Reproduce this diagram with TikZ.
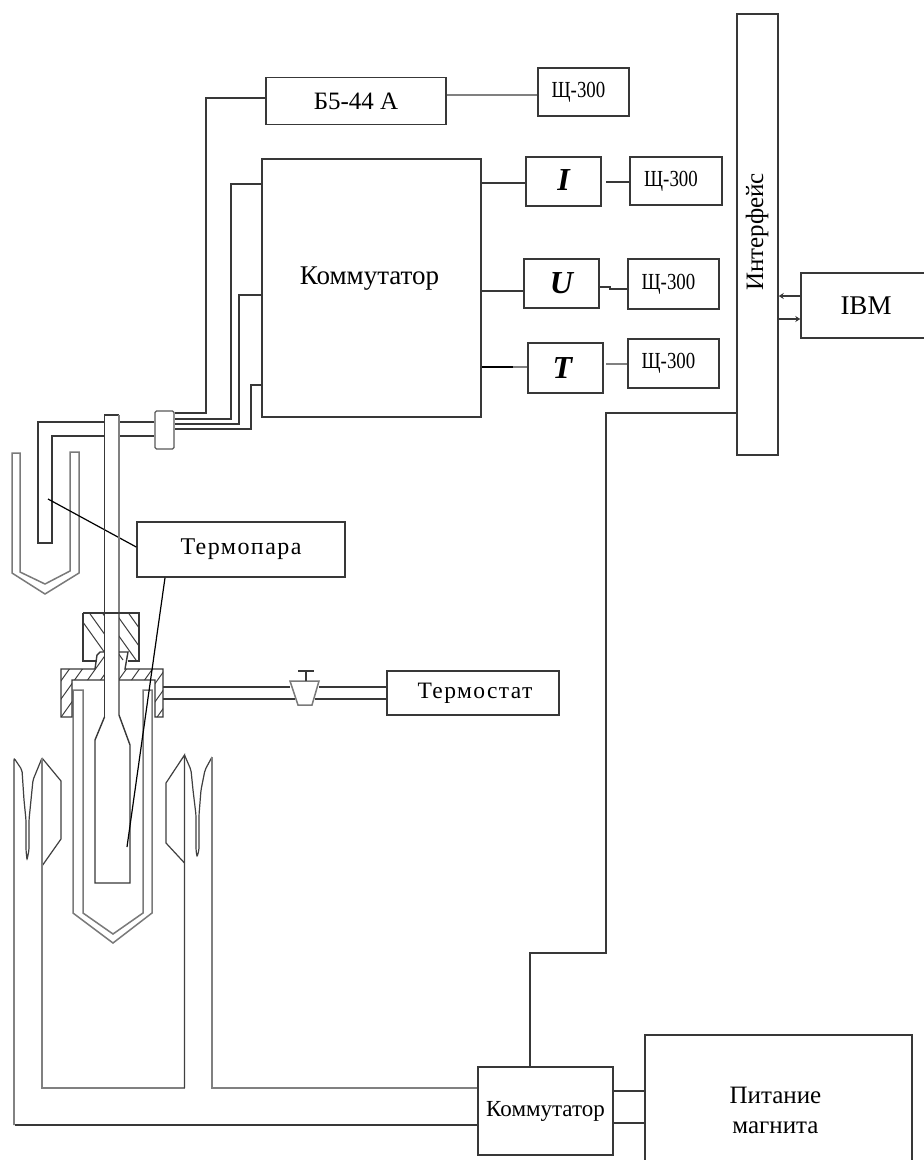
\documentclass[tikz,border=0pt]{standalone}
\usepackage{fontspec}
\setmainfont{Liberation Serif}
\newfontfamily\narrowfont[FakeStretch=0.82]{Liberation Serif}
\usetikzlibrary{arrows.meta}
\newcommand{\meterlabel}{\kern-10pt Щ-300}
\tikzset{
  box/.style={draw=black!78, line width=1.5pt, inner sep=0pt, align=center, font=\fontsize{16}{19}\selectfont},
  meter/.style={box, font=\narrowfont\fontsize{23}{26}\selectfont},
  signal/.style={box, font=\bfseries\itshape\fontsize{32}{34}\selectfont},
  wire/.style={black!78, line width=1.4pt},
  greywire/.style={black!50, line width=1.8pt},
  glass/.style={black!52, line width=1.5pt, fill=white},
  thin wall/.style={black!75, line width=1.2pt},
  hatch/.style={black!75, line width=1pt},
  lead/.style={black, line width=1.2pt},
}
\begin{document}
\begin{tikzpicture}[x=1pt,y=-1pt]
\useasboundingbox (0,0) rectangle (924,1160);
\clip (0,0) rectangle (924,1160);
\fill[white] (0,0) rectangle (924,1160);

% Blocks
\node[box,minimum width=180,minimum height=47,font=\fontsize{25}{28}\selectfont] (source) at (356,101) {Б5-44 А};
\node[meter,minimum width=91,minimum height=48] (meterA) at (583.5,92) {\meterlabel};
\node[box,minimum width=219,minimum height=258,font=\fontsize{27}{30}\selectfont] (commA) at (371.5,288) {\raisebox{24pt}{\kern-4pt Коммутатор}};
\node[signal,minimum width=75,minimum height=49] (blockI) at (563.5,181.5) {\raisebox{3pt}{I}};
\node[signal,minimum width=75,minimum height=49] (blockU) at (561.5,283.5) {U};
\node[signal,minimum width=75,minimum height=50] (blockT) at (565.5,368) {\kern-6pt T};
\node[meter,minimum width=92,minimum height=48] (meterI) at (676,181) {\meterlabel};
\node[meter,minimum width=91,minimum height=50] (meterU) at (673.5,284) {\meterlabel};
\node[meter,minimum width=91,minimum height=49] (meterT) at (673.5,363.5) {\meterlabel};
\node[box,minimum width=41,minimum height=441] (iface) at (757.5,234.5) {};
\node[rotate=90,font=\fontsize{25}{28}\selectfont] (ifacetext) at (757,232) {Интерфейс};
\node[box,minimum width=130,minimum height=65,font=\fontsize{27}{30}\selectfont] (ibm) at (866,305.5) {\raisebox{-4pt}{IBM}};
\node[box,minimum width=208,minimum height=55,font=\fontsize{24}{27}\selectfont,fill=white] (thermocouple) at (241,549.5) {\addfontfeatures{LetterSpace=6}Термопара};
\node[box,minimum width=172,minimum height=44,font=\fontsize{23.5}{27}\selectfont] (thermostat) at (473,693) {\kern4pt\addfontfeatures{LetterSpace=6}Термостат};
\node[box,minimum width=135,minimum height=88,font=\fontsize{23}{26}\selectfont] (commB) at (545.5,1111) {Коммутатор};
\node[box,minimum width=267,minimum height=160,font=\fontsize{25}{30}\selectfont] (power) at (778.5,1115) {\raisebox{28pt}{\kern-6pt\begin{tabular}{c}Питание\\магнита\end{tabular}}};
\node[draw=black!65,line width=1.3pt,rounded corners=1.5pt,minimum width=19,minimum height=38,inner sep=0pt] (plug) at (164.5,430) {};

% Wires on the upper blocks
\draw[greywire] (source.east |- 0,95) -- (meterA.west |- 0,95);
\draw[wire] (commA.east |- 0,183) -- (blockI.west |- 0,183);
\draw[wire] (606,182) -- (meterI.west |- 0,182);
\draw[wire] (commA.east |- 0,291) -- (blockU.west |- 0,291);
\draw[wire] (blockU.east |- 0,287) -- (610,287) -- (610,289) -- (meterU.west |- 0,289);
\draw[black,line width=2.6pt] (commA.east |- 0,367) -- (513,367);
\draw[greywire,line width=2.6pt] (513,367) -- (blockT.west |- 0,367);
\draw[greywire,line width=2.6pt] (606,364) -- (meterT.west |- 0,364);
\draw[wire,-{Stealth[length=5pt,width=6pt]}] (ibm.west |- 0,296) -- (iface.east |- 0,296);
\draw[wire,-{Stealth[length=5pt,width=6pt]}] (iface.east |- 0,319) -- (ibm.west |- 0,319);
\draw[wire] (iface.west |- 0,413) -- (606,413) -- (606,953) -- (530,953) -- (commB.north -| 530,0);

% Four wires into the plug
\draw[wire] (source.west |- 0,98) -- (206,98) -- (206,413) -- (plug.east |- 0,413);
\draw[wire] (commA.west |- 0,184) -- (231,184) -- (231,419) -- (plug.east |- 0,419);
\draw[wire] (commA.west |- 0,295) -- (239,295) -- (239,424) -- (plug.east |- 0,424);
\draw[wire] (commA.west |- 0,385) -- (251,385) -- (251,429) -- (plug.east |- 0,429);

% Magnet supply wires
\draw[wire] (commB.east |- 0,1091) -- (power.west |- 0,1091);
\draw[wire] (commB.east |- 0,1123) -- (power.west |- 0,1123);

% Probe tube and small vessel
\draw[glass] (12,453) -- (20,453) -- (20,572) -- (45,584) -- (70,571) -- (70,452) -- (79,452) -- (79,573) -- (45,594) -- (12,573) -- cycle;
\draw[wire] (plug.west |- 0,422) -- (38,422) -- (38,543) -- (52,543) -- (52,436) -- (plug.west |- 0,436);
\fill[white] (104.5,414) rectangle (119,613);
\draw[lead] (thermocouple.west |- 0,547) -- (48,499);
\draw[wire] (104.5,717) -- (104.5,415) -- (119,415);
\draw[greywire] (119,415) -- (119,715);

% Large vessel
\draw[thin wall,rounded corners=2pt] (14,1125) -- (14,758) -- (22,770) -- (24,800) -- (26,820) -- (26,850) -- (27,860) -- (29,850) -- (29,820) -- (31,800) -- (33,780) -- (42,758);
\draw[thin wall] (42,758) -- (61,781) -- (61,839) -- (42,866);
\draw[greywire] (42,758) -- (42,1088) -- (184.5,1088);
\draw[thin wall] (184.5,1088) -- (184.5,755) -- (166,783) -- (166,843) -- (184.5,863);
\draw[thin wall,rounded corners=2pt] (184.5,755) -- (191,770) -- (193,790) -- (196,815) -- (196,850) -- (197,857) -- (199,850) -- (199,815) -- (201,790) -- (205,770) -- (212,757);
\draw[greywire] (212,757) -- (212,1088) -- (commB.west |- 0,1088);
\draw[wire] (15,1125) -- (commB.west |- 0,1125);

% Inner double wall
\draw[glass,fill=none] (73,690) -- (83,690) -- (83,913) -- (113,934) -- (143,913) -- (143,690) -- (152,690) -- (152,913) -- (113,943) -- (73,913) -- cycle;

% Hatching of the cap and flange
\begin{scope}
\clip (83,613) rectangle (104.5,661) (119,613) rectangle (139,661);
\foreach \s in {0,13,...,130}{
  \draw[hatch] (60+\s,590) -- (110+\s,660);
}
\end{scope}
\draw[wire] (83,613) -- (139,613) -- (139,661) -- (128,661);
\draw[wire] (83,613) -- (83,661) -- (97,661);
\begin{scope}
\clip (61,669) -- (95,669) -- (100,652) -- (104.5,652) -- (104.5,680) -- (72,680) -- (72,717) -- (61,717) -- cycle;
\foreach \s in {0,13,...,130}{
  \draw[hatch] (20+\s,720) -- (70+\s,650);
}
\end{scope}
\begin{scope}
\clip (163,669) -- (125,669) -- (128,652) -- (119,652) -- (119,680) -- (155,680) -- (155,717) -- (163,717) -- cycle;
\foreach \s in {0,13,...,130}{
  \draw[hatch] (90+\s,720) -- (140+\s,650);
}
\end{scope}
\draw[wire] (104.5,680) -- (72,680) -- (72,717) -- (61,717) -- (61,669) -- (95,669) -- (97,655) -- (100,652) -- (104.5,652);
\draw[wire] (119,680) -- (155,680) -- (155,717) -- (163,717) -- (163,669) -- (125,669) -- (128,652) -- (119,652);

% Sample holder
\draw[wire] (104.5,717) -- (95,740) -- (95,883) -- (130,883) -- (130,745) -- (119,715);
\draw[lead] (thermocouple.south -| 165,0) -- (127,847);

% Feed to the thermostat with valve
\draw[wire] (163,687) -- (290,687) (319,687) -- (thermostat.west |- 0,687);
\draw[wire] (163,699) -- (295,699) (315,699) -- (thermostat.west |- 0,699);
\draw[glass,fill=white] (290,681) -- (319,681) -- (312,705) -- (298,705) -- cycle;
\draw[wire] (306,681) -- (306,671) (298,671) -- (314,671);
\end{tikzpicture}
\end{document}
